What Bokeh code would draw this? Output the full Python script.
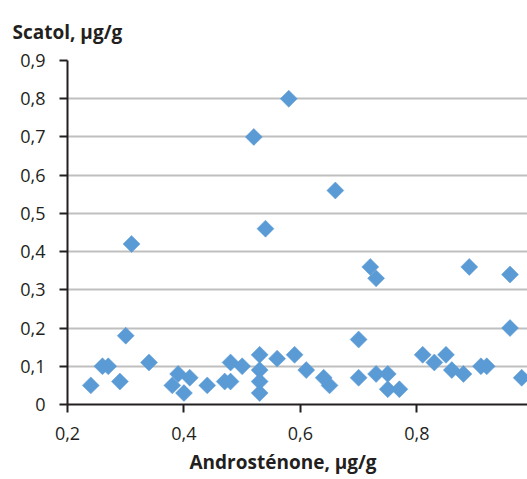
from bokeh.plotting import figure
from bokeh.models import Range1d, FixedTicker, CustomJSTickFormatter, Title, ColumnDataSource
from bokeh.embed import file_html
from bokeh.resources import INLINE

# Data
androstenone = [0.24, 0.26, 0.27, 0.29, 0.30, 0.31, 0.34, 0.38, 0.39, 0.40, 0.41, 0.44,
                0.47, 0.48, 0.48, 0.50, 0.52, 0.53, 0.53, 0.53, 0.53, 0.54, 0.56, 0.58,
                0.59, 0.61, 0.64, 0.65, 0.66, 0.70, 0.70, 0.72, 0.73, 0.73, 0.75, 0.75,
                0.77, 0.81, 0.83, 0.85, 0.86, 0.88, 0.89, 0.91, 0.92, 0.96, 0.96, 0.98]
scatol = [0.05, 0.10, 0.10, 0.06, 0.18, 0.42, 0.11, 0.05, 0.08, 0.03, 0.07, 0.05,
          0.06, 0.11, 0.06, 0.10, 0.70, 0.13, 0.09, 0.06, 0.03, 0.46, 0.12, 0.80,
          0.13, 0.09, 0.07, 0.05, 0.56, 0.17, 0.07, 0.36, 0.33, 0.08, 0.08, 0.04,
          0.04, 0.13, 0.11, 0.13, 0.09, 0.08, 0.36, 0.10, 0.10, 0.34, 0.20, 0.07]

x_ticks = [0.2, 0.4, 0.6, 0.8]
y_ticks = [0.0, 0.1, 0.2, 0.3, 0.4, 0.5, 0.6, 0.7, 0.8, 0.9]
y_title = "Scatol, µg/g"
x_title = "Androsténone, µg/g"

FONT = "Open Sans"
TEXT_COLOR = "#231f20"

source = ColumnDataSource(data=dict(x=androstenone, y=scatol))

p = figure(width=527, height=479, output_backend="svg", toolbar_location=None,
           x_range=Range1d(0.2, 0.99), y_range=Range1d(0, 0.9),
           min_border_left=67, min_border_top=58, min_border_bottom=75, min_border_right=0)
p.outline_line_color = None
p.background_fill_color = "white"
p.border_fill_color = "white"

p.scatter("x", "y", source=source, marker="square", size=12, angle=0.785398,
          fill_color="#5b9bd5", line_color="#5b9bd5", line_width=0.5)

p.xgrid.grid_line_color = None
p.ygrid.grid_line_color = "#bfbfbf"
p.ygrid.grid_line_width = 2

fmt = CustomJSTickFormatter(code="return tick == 0 ? '0' : tick.toFixed(1).replace('.', ',');")

for ax, ticks in ((p.xaxis[0], x_ticks), (p.yaxis[0], y_ticks)):
    ax.ticker = FixedTicker(ticks=ticks)
    ax.formatter = fmt
    ax.axis_line_color = TEXT_COLOR
    ax.axis_line_width = 2
    ax.major_tick_line_color = TEXT_COLOR
    ax.major_tick_line_width = 2
    ax.major_tick_out = 8
    ax.major_tick_in = 0
    ax.minor_tick_line_color = None
    ax.major_label_text_font = FONT
    ax.major_label_text_font_size = "18px"
    ax.major_label_text_color = TEXT_COLOR

p.yaxis.major_label_standoff = 14
p.xaxis.major_label_standoff = 14

p.title = Title(text=y_title, align="left", offset=-55, standoff=32,
                text_font=FONT, text_font_size="19px", text_font_style="bold",
                text_color=TEXT_COLOR)

p.add_layout(Title(text=x_title, align="left", offset=122, standoff=8,
                   text_font=FONT, text_font_size="19px", text_font_style="bold",
                   text_color=TEXT_COLOR), "below")

open("out.html", "w").write(file_html(p, INLINE))
